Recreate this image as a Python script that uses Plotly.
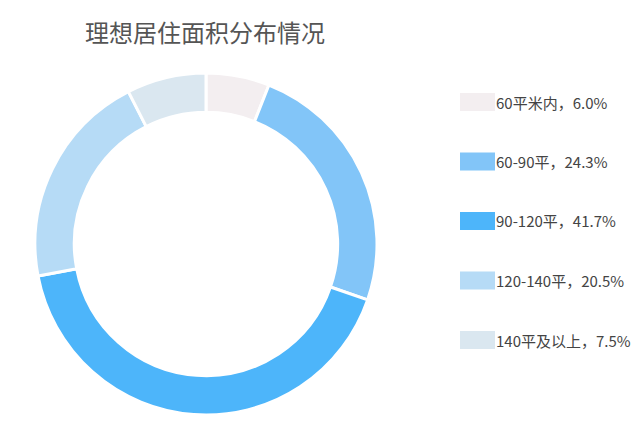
import plotly.graph_objects as go

title = "理想居住面积分布情况"
labels = ["60平米内", "60-90平", "90-120平", "120-140平", "140平及以上"]
values = [6.0, 24.3, 41.7, 20.5, 7.5]
colors = ["#F3EEF0", "#82C5F8", "#4DB5FA", "#B6DBF6", "#DAE7F0"]

W, H = 640, 433
OFF = 8  # page body margin shifts everything by ~8px

fig = go.Figure()
fig.add_trace(go.Pie(
    labels=labels, values=values, sort=False, direction="clockwise", rotation=0,
    hole=0.77, marker=dict(colors=colors, line=dict(color="white", width=3)),
    textinfo="none", hoverinfo="label+percent", showlegend=False,
    domain=dict(x=[(35 - OFF) / W, (377 - OFF) / W],
                y=[(H - 415 + OFF) / H, (H - 73 + OFF) / H]),
))

# legend drawn by hand: wide rectangles with big gaps
x0, y_top, gap = 460 - OFF, 102 - OFF, 59.5
for i, (lab, val, col) in enumerate(zip(labels, values, colors)):
    yc = y_top + i * gap
    fig.add_shape(type="rect", xref="paper", yref="paper",
                  x0=x0 / W, x1=(x0 + 35) / W,
                  y0=(H - yc - 9) / H, y1=(H - yc + 9) / H,
                  fillcolor=col, line=dict(width=0))
    fig.add_annotation(xref="paper", yref="paper", x=(x0 + 34) / W, y=(H - yc) / H,
                       xanchor="left", yanchor="middle", showarrow=False,
                       text=f"{lab}，{val:.1f}%",
                       font=dict(size=15, color="#444444"))

fig.update_layout(
    width=W, height=H,
    margin=dict(l=0, r=0, t=0, b=0),
    paper_bgcolor="white", plot_bgcolor="white",
    font=dict(family="Noto Sans CJK SC, sans-serif"),
    title=dict(text=title, x=(85 - OFF) / W, xanchor="left", y=(H - 34 + OFF) / H,
               yanchor="middle", font=dict(size=24, color="#555555")),
)

fig.write_html("out.html")
